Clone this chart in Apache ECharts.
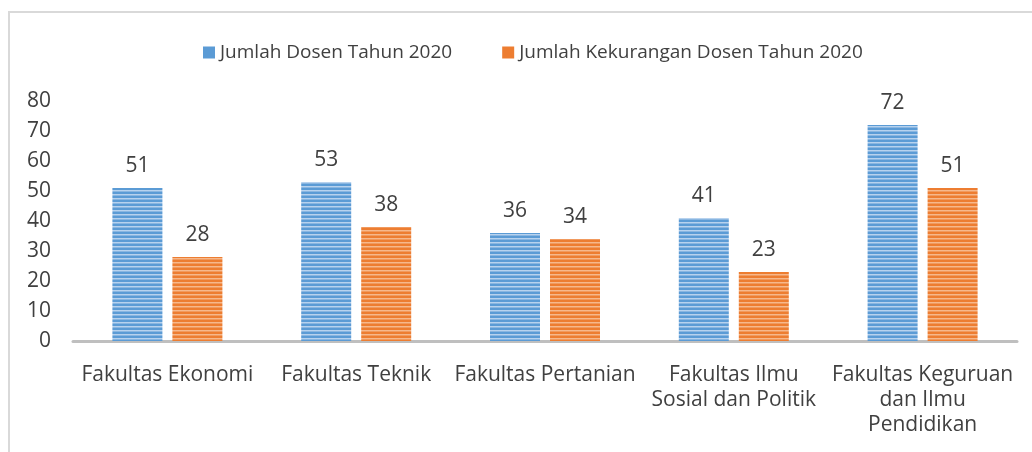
<!DOCTYPE html>
<html>
<head>
<meta charset="utf-8">
<script src="https://cdn.jsdelivr.net/npm/echarts@6/dist/echarts.min.js"></script>
<style>
  html, body { margin: 0; padding: 0; background: #fff; }
  #chart { width: 1032px; height: 452px; }
</style>
</head>
<body>
<div id="chart"></div>
<script>
const categories = [
  "Fakultas Ekonomi",
  "Fakultas Teknik",
  "Fakultas Pertanian",
  "Fakultas Ilmu\nSosial dan Politik",
  "Fakultas Keguruan\ndan Ilmu\nPendidikan"
]
const seriesNames = ["Jumlah Dosen Tahun 2020", "Jumlah Kekurangan Dosen Tahun 2020"]
const dosen = [51, 53, 36, 41, 72]
const kekurangan = [28, 38, 34, 23, 51]
const yTicks = [0, 10, 20, 30, 40, 50, 60, 70, 80]

// horizontal stripe fill like the office "pattern" bars
function stripes(dark, light) {
  const c = document.createElement("canvas")
  c.width = 4
  c.height = 4
  const ctx = c.getContext("2d")
  ctx.fillStyle = dark
  ctx.fillRect(0, 0, 4, 4)
  ctx.fillStyle = light
  ctx.fillRect(0, 2, 4, 1.5)
  return { image: c, repeat: "repeat" }
}

const font = "'Open Sans', 'Noto Sans', sans-serif"
const chart = echarts.init(document.getElementById("chart"))

const labelStyle = {
  show: true,
  position: "top",
  distance: 11,
  color: "#404040",
  fontSize: 21,
  fontFamily: font
}

chart.setOption({
  animation: false,
  graphic: [
    {
      type: "rect",
      shape: { x: 9, y: 12, width: 1040, height: 460 },
      style: { fill: "none", stroke: "#d9d9d9", lineWidth: 2 }
    }
  ],
  legend: {
    top: 38,
    left: 198,
    itemWidth: 12,
    itemHeight: 12,
    itemGap: 50,
    icon: "rect",
    textStyle: { color: "#404040", fontSize: 19, fontFamily: font },
    data: [
      { name: seriesNames[0], itemStyle: { color: "#5b9bd5" } },
      { name: seriesNames[1], itemStyle: { color: "#ed7d31" } }
    ]
  },
  grid: { left: 73, right: 15, top: 101, bottom: 111 },
  xAxis: {
    type: "category",
    data: categories,
    axisLine: { lineStyle: { color: "#bfbfbf", width: 3 } },
    axisTick: { show: false },
    axisLabel: {
      color: "#404040",
      fontSize: 21,
      fontFamily: font,
      lineHeight: 25,
      margin: 22,
      interval: 0
    }
  },
  yAxis: {
    type: "value",
    min: yTicks[0],
    max: yTicks[yTicks.length - 1],
    interval: 10,
    splitLine: { show: false },
    axisLine: { show: false },
    axisTick: { show: false },
    axisLabel: {
      color: "#404040",
      fontSize: 21,
      fontFamily: font,
      margin: 22
    }
  },
  series: [
    {
      name: seriesNames[0],
      type: "bar",
      data: dosen,
      barWidth: 50,
      barGap: "20%",
      itemStyle: { color: stripes("#5b9bd5", "#b7d2ee") },
      label: labelStyle
    },
    {
      name: seriesNames[1],
      type: "bar",
      data: kekurangan,
      barWidth: 50,
      itemStyle: { color: stripes("#ed7d31", "#f6b88c") },
      label: labelStyle
    }
  ]
})
</script>
</body>
</html>
